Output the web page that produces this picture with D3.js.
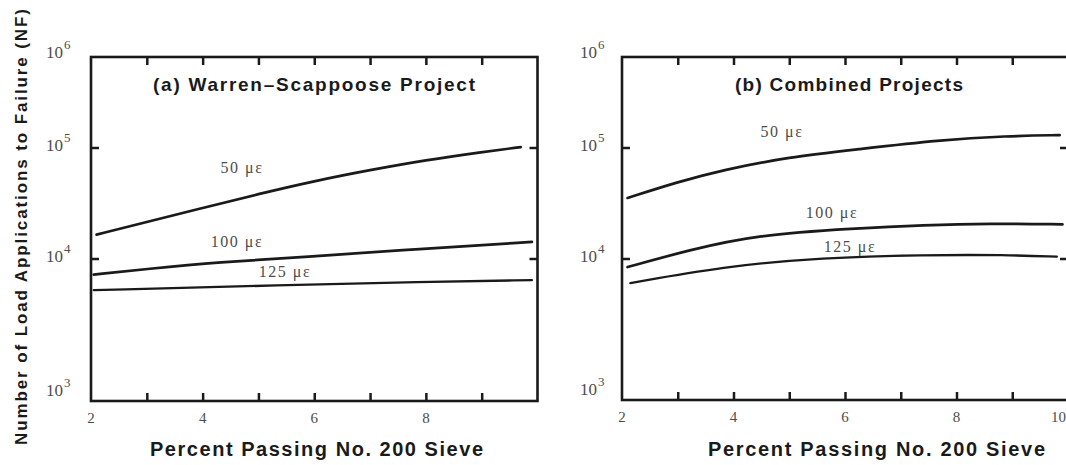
<!DOCTYPE html>
<html>
<head>
<meta charset="utf-8">
<script src="https://cdn.jsdelivr.net/npm/d3@7"></script>
<style>
  html, body { margin: 0; padding: 0; background: #fff; }
  svg { display: block; }
</style>
</head>
<body>
<svg id="chart" width="1066" height="465"></svg>
<script>
// Percent passing No. 200 sieve (x) vs. load applications to failure (log y)
const xTickValues = [3, 4, 5, 6, 7, 8, 9];
const xLabelsA = [2, 4, 6, 8];
const xLabelsB = [2, 4, 6, 8, 10];
const yDecades = [1e3, 1e4, 1e5, 1e6];
const yTickMarks = [1e4, 1e5];
const strainLabels = ["50 με", "100 με", "125 με"];

// (a) Warren-Scappoose Project
const xA50  = [2.1, 3, 4, 5, 6, 7, 8, 9, 9.7];
const yA50  = [16400, 21300, 28500, 38100, 49900, 62700, 77100, 91000, 101000];
const xA100 = [2.05, 3, 4.3, 5.8, 7.9, 9.9];
const yA100 = [7700, 8450, 9450, 10300, 12200, 14100];
const xA125 = [2.05, 5.5, 7.9, 9.9];
const yA125 = [6000, 6500, 6850, 7050];

// (b) Combined Projects
const xB50  = [2.1, 3, 3.8, 5, 6.2, 7.7, 8.9, 9.85];
const yB50  = [35100, 48900, 62700, 82100, 95900, 121000, 134000, 137000];
const xB100 = [2.1, 3.2, 4.4, 6.2, 7.4, 8.6, 9.9];
const yB100 = [8700, 11900, 16300, 18700, 20000, 20700, 20300];
const xB125 = [2.15, 3.8, 5.6, 7.4, 8.9, 9.8];
const yB125 = [6700, 8760, 10200, 10770, 10770, 10380];

const svg = d3.select("#chart");
const ink = "#1a1a1a";
const soft = "#4d4d4d";

function zip(xs, ys) { return xs.map((x, i) => ({ x, y: ys[i] })); }

function drawPanel(cfg) {
  const x = d3.scaleLinear().domain([2, 10]).range([cfg.left, cfg.right]);
  // decade spacing of the printed axis is uneven, so the log scale is piecewise
  const y = d3.scaleLog().domain(yDecades).range([cfg.bottom, 258.5, 147.5, 57]);
  const top = y(1e6), bottom = y(1e3);
  const g = svg.append("g");

  // inward tick marks via d3 axes
  const tickLen = 8;
  g.append("g").attr("transform", `translate(0,${bottom})`)
    .call(d3.axisTop(x).tickValues(xTickValues).tickSize(tickLen).tickFormat(""))
    .call(a => a.select(".domain").remove());
  g.append("g").attr("transform", `translate(0,${top})`)
    .call(d3.axisBottom(x).tickValues(xTickValues).tickSize(tickLen).tickFormat(""))
    .call(a => a.select(".domain").remove());
  g.append("g").attr("transform", `translate(${x(2)},0)`)
    .call(d3.axisRight(y).tickValues(yTickMarks).tickSize(tickLen).tickFormat(""))
    .call(a => a.select(".domain").remove());
  g.append("g").attr("transform", `translate(${x(10)},0)`)
    .call(d3.axisLeft(y).tickValues(yTickMarks).tickSize(tickLen).tickFormat(""))
    .call(a => a.select(".domain").remove());
  g.selectAll(".tick line").attr("stroke", ink).attr("stroke-width", 2.5);

  // frame
  g.append("rect")
    .attr("x", x(2)).attr("y", top)
    .attr("width", x(10) - x(2)).attr("height", bottom - top)
    .attr("fill", "none").attr("stroke", ink).attr("stroke-width", 2.6);

  // x tick labels
  g.selectAll(".xl").data(cfg.xLabels).enter().append("text")
    .attr("x", d => d === 10 ? cfg.right - 2 : x(d)).attr("y", bottom + 22)
    .attr("text-anchor", d => d === 10 ? "end" : "middle")
    .attr("font-family", "Liberation Serif, serif").attr("font-size", 15)
    .attr("fill", soft).text(d => d);

  // y decade labels: 10 with a superscript exponent
  const yl = g.selectAll(".yl").data(yDecades).enter().append("text")
    .attr("x", cfg.yLabelX)
    .attr("y", d => d === 1e3 ? y(d) - 5 : (d === 1e6 ? y(d) + 1 : y(d) + 3))
    .attr("font-family", "Liberation Serif, serif").attr("font-size", 17)
    .attr("fill", soft);
  yl.append("tspan").text("10");
  yl.append("tspan").attr("dy", -9).attr("dx", 1).attr("font-size", 13)
    .text(d => Math.round(Math.log10(d)));

  // strain curves
  const line = d3.line().x(d => x(d.x)).y(d => y(d.y)).curve(d3.curveBasis);
  cfg.series.forEach((s, i) => {
    g.append("path").datum(s.data)
      .attr("d", line).attr("fill", "none")
      .attr("stroke", ink).attr("stroke-width", i === 2 ? 2.3 : 2.7)
      .attr("stroke-linecap", "round");
    g.append("text")
      .attr("x", s.lx).attr("y", s.ly)
      .attr("text-anchor", "middle")
      .attr("font-family", "Liberation Serif, serif").attr("font-size", 16)
      .attr("letter-spacing", 1.5)
      .attr("fill", soft).text(strainLabels[i]);
  });

  // panel title
  g.append("text")
    .attr("x", cfg.titleX).attr("y", 91)
    .attr("font-family", "Liberation Sans, Arial, sans-serif")
    .attr("font-weight", "bold").attr("font-size", 19)
    .attr("textLength", cfg.titleLen).attr("lengthAdjust", "spacing")
    .attr("fill", ink).text(cfg.title);

  // x axis title
  g.append("text")
    .attr("x", cfg.axisTitleX).attr("y", 456)
    .attr("font-family", "Liberation Sans, Arial, sans-serif")
    .attr("font-weight", "bold").attr("font-size", 20)
    .attr("textLength", cfg.axisTitleLen).attr("lengthAdjust", "spacing")
    .attr("fill", ink).text("Percent Passing No. 200 Sieve");
}

drawPanel({
  left: 91, right: 537.5, bottom: 401,
  xLabels: xLabelsA, yLabelX: 46,
  title: "(a) Warren\u2013Scappoose Project", titleX: 153, titleLen: 322,
  axisTitleX: 150, axisTitleLen: 333,
  series: [
    { data: zip(xA50, yA50),  lx: 242, ly: 173 },
    { data: zip(xA100, yA100), lx: 237, ly: 247 },
    { data: zip(xA125, yA125), lx: 285, ly: 277 }
  ]
});

drawPanel({
  left: 622, right: 1068, bottom: 400,
  xLabels: xLabelsB, yLabelX: 580,
  title: "(b) Combined Projects", titleX: 735, titleLen: 228,
  axisTitleX: 708, axisTitleLen: 337,
  series: [
    { data: zip(xB50, yB50),  lx: 782, ly: 137 },
    { data: zip(xB100, yB100), lx: 832, ly: 218 },
    { data: zip(xB125, yB125), lx: 850, ly: 252 }
  ]
});

// shared y axis title
svg.append("text")
  .attr("transform", "translate(27,227) rotate(-90)")
  .attr("text-anchor", "middle")
  .attr("font-family", "Liberation Sans, Arial, sans-serif")
  .attr("font-weight", "bold").attr("font-size", 17)
  .attr("textLength", 436).attr("lengthAdjust", "spacing")
  .attr("fill", ink).text("Number of Load Applications to Failure (NF)");
</script>
</body>
</html>
